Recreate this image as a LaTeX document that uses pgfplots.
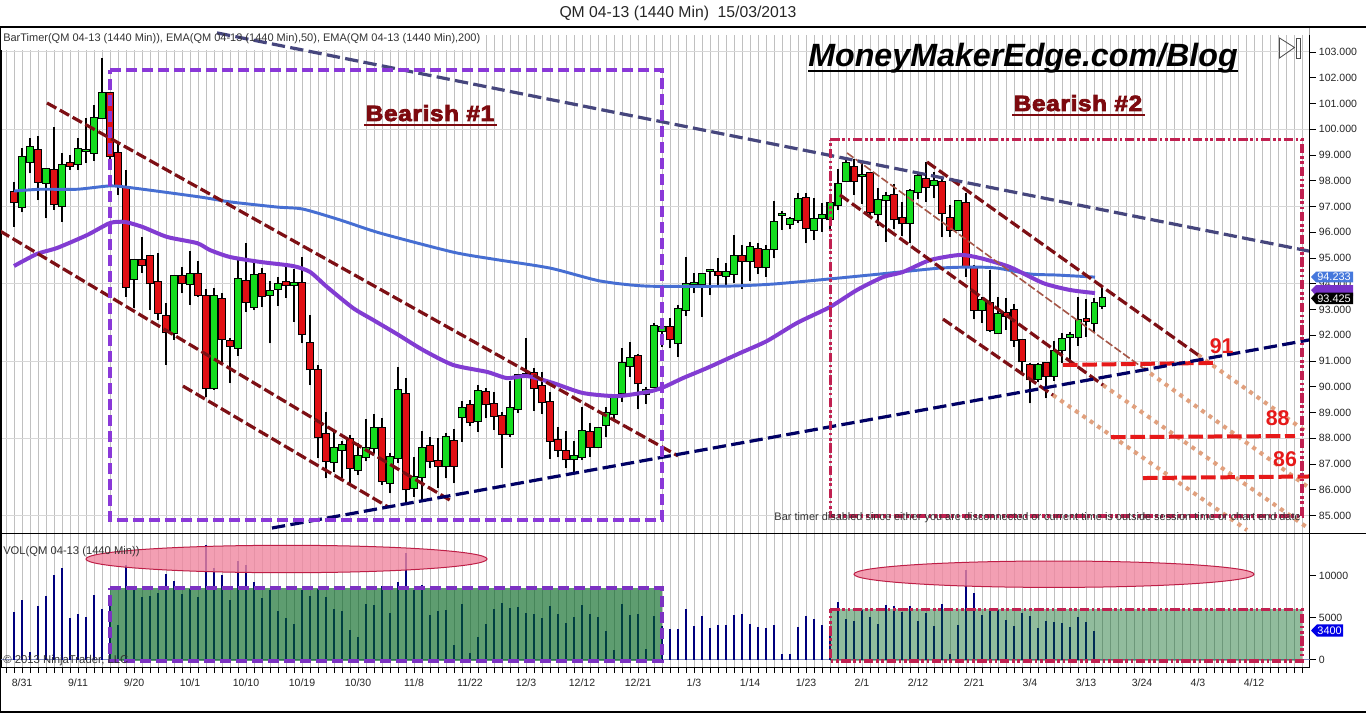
\documentclass[border=0pt]{standalone}
\usepackage{fontspec}
\setmainfont{Liberation Sans}
\newfontfamily\heavy[FakeBold=3.5,LetterSpace=3]{Liberation Sans Bold}
\usepackage{graphicx}
\usepackage{pgfplots}
\usepackage{pgfplotstable}
\pgfplotsset{compat=1.18}
\definecolor{cgreen}{RGB}{20,220,30}
\definecolor{cred}{RGB}{225,15,20}
\definecolor{emab}{RGB}{70,110,210}
\definecolor{emap}{RGB}{130,60,210}
\definecolor{slate}{RGB}{70,70,125}
\definecolor{navy2}{RGB}{0,0,100}
\definecolor{chan}{RGB}{125,15,20}
\definecolor{thinc}{RGB}{165,85,70}
\definecolor{tan2}{RGB}{225,160,125}
\definecolor{hred}{RGB}{230,25,25}
\definecolor{rpur}{RGB}{138,56,216}
\definecolor{rred}{RGB}{192,32,80}
\definecolor{volb}{RGB}{0,0,125}
\definecolor{rgreen}{RGB}{0,100,30}
\definecolor{gridc}{RGB}{192,192,192}
\definecolor{gridh}{RGB}{215,215,215}
\definecolor{zeroc}{RGB}{130,140,190}
\definecolor{elld}{RGB}{190,30,70}
\definecolor{ellf}{RGB}{240,135,160}
\definecolor{bear}{RGB}{125,10,15}
\definecolor{flagp}{RGB}{120,50,200}
\definecolor{flagb}{RGB}{70,120,220}
\definecolor{flagv}{RGB}{0,0,230}

% i high low top bot
\pgfplotstableread{
i high low top bot
0 99.26 96.77 98.91 96.99
1 99.65 98.29 99.32 98.72
3 98.48 96.54 98.44 97.93
5 99.09 96.41 98.60 97.03
7 99.67 98.42 99.22 98.64
8 100.42 98.68 99.19 99.17
9 100.94 98.77 100.42 99.09
10 102.75 100.55 101.39 100.42
14 94.92 93.05 94.91 94.17
19 94.30 91.82 94.29 92.08
21 95.29 93.18 94.37 93.98
24 93.84 89.88 93.53 89.94
27 94.92 91.20 94.17 91.52
29 94.86 92.98 94.35 93.11
31 94.12 91.69 93.71 93.55
32 94.28 93.14 93.98 93.79
34 94.56 92.53 94.02 93.94
39 88.33 86.71 87.61 87.07
40 87.91 86.45 87.73 87.54
42 87.81 86.58 87.30 86.76
43 88.75 87.11 87.61 87.26
44 88.95 87.42 88.39 87.61
46 87.42 85.87 87.26 86.25
47 90.78 87.03 89.87 87.22
49 87.26 85.74 86.51 86.06
50 88.30 85.54 87.61 86.49
53 88.20 86.45 88.04 86.91
55 89.46 87.87 89.17 88.82
57 90.07 88.26 89.83 88.66
61 90.24 88.07 89.17 88.16
62 90.50 89.00 90.46 89.13
69 87.91 86.71 87.30 87.19
70 89.23 87.16 88.27 87.26
72 88.45 87.61 88.39 87.65
73 89.23 88.04 88.97 88.51
74 89.55 88.71 89.55 88.93
75 91.52 89.42 90.91 89.75
76 91.75 90.40 91.11 90.80
78 90.01 89.33 89.89 89.72
79 92.49 90.01 92.35 90.01
80 92.66 91.56 92.31 92.18
82 93.18 91.17 93.01 91.69
83 95.05 92.75 94.00 92.97
84 94.43 93.63 94.02 93.99
85 94.41 92.72 94.39 94.00
86 94.52 93.56 94.52 94.50
88 94.79 93.95 94.44 94.29
89 95.89 94.02 95.07 94.37
91 95.64 94.12 95.42 94.87
93 95.51 94.28 95.30 94.64
94 97.23 94.99 96.39 95.34
95 96.84 96.09 96.71 96.69
96 96.58 96.11 96.50 96.33
97 97.51 96.37 97.28 96.46
99 97.32 95.70 96.50 96.08
100 97.12 96.02 96.66 96.54
101 97.38 96.09 97.15 96.50
102 98.44 96.86 97.89 97.05
103 98.87 97.96 98.68 97.98
105 98.74 97.10 98.21 98.19
107 97.71 96.24 97.24 96.70
108 97.58 95.64 97.40 97.24
111 97.67 95.57 97.59 96.35
112 98.35 97.28 98.17 97.55
114 98.35 97.32 97.98 97.82
117 97.25 96.06 97.20 96.08
120 93.50 92.47 93.36 93.00
122 93.50 92.05 92.81 92.08
127 90.91 90.20 90.84 90.29
129 91.79 90.24 91.38 90.43
130 92.10 90.91 91.84 91.42
131 92.14 90.91 92.00 91.92
132 93.50 91.60 92.61 91.92
134 93.44 92.08 93.24 92.47
135 93.82 93.01 93.44 93.13
}\upbars
\pgfplotstableread{
i high low top bot
-1 97.96 96.22 97.55 97.16
2 99.74 97.25 99.21 97.96
4 100.10 96.87 98.40 97.08
6 99.00 98.42 98.69 98.59
11 101.39 98.68 101.39 98.96
12 99.52 97.45 99.06 97.82
13 98.42 93.50 97.77 93.89
15 95.80 94.41 94.91 94.72
16 95.08 92.98 95.07 94.02
17 95.18 92.60 94.06 92.88
18 93.27 90.85 92.74 92.12
20 94.67 93.63 94.29 94.02
22 94.89 93.50 94.37 93.55
23 93.80 89.62 93.53 89.94
25 93.64 90.93 93.40 91.85
26 91.90 90.15 91.77 91.60
28 95.60 92.92 94.10 93.31
30 94.60 93.09 94.37 93.51
33 94.79 93.46 94.06 93.94
35 95.05 91.69 94.02 92.04
36 92.79 90.07 91.69 90.68
37 90.85 87.22 90.64 88.04
38 89.04 86.45 88.16 87.11
41 88.13 86.25 87.96 86.84
45 88.78 86.19 88.39 86.33
48 90.33 85.54 89.71 86.02
51 88.04 86.84 87.69 87.11
52 88.00 86.06 87.11 86.91
54 88.35 86.25 87.89 86.94
56 89.49 88.48 89.28 88.62
58 89.94 88.78 89.79 89.32
59 89.79 88.33 89.32 88.86
60 89.04 86.84 88.86 88.16
63 91.88 90.40 90.50 90.42
64 90.72 89.08 90.53 89.94
65 90.59 88.95 90.02 89.40
66 89.79 87.19 89.40 87.89
67 88.43 87.26 87.92 87.54
68 88.30 86.84 87.50 87.19
71 88.58 87.29 88.23 87.65
77 91.26 89.13 91.18 90.14
81 92.66 91.49 92.31 91.84
87 94.99 93.95 94.44 94.35
90 95.51 93.78 95.07 94.90
92 95.60 94.38 95.34 94.64
98 97.51 95.57 97.32 96.15
104 98.83 97.45 98.52 97.98
106 98.31 96.61 98.31 96.77
109 97.86 96.11 97.43 96.50
110 97.19 95.86 96.54 96.35
113 98.72 97.19 98.05 97.74
115 98.05 95.80 97.94 96.74
116 97.06 95.83 96.54 96.09
118 97.51 94.28 97.12 94.67
119 94.73 92.62 94.67 92.97
121 94.54 92.14 93.24 92.19
123 93.44 92.21 92.85 92.76
124 93.22 91.56 92.97 91.81
125 91.81 90.59 91.81 90.99
126 90.91 89.36 90.84 90.29
128 90.91 89.55 90.91 90.41
133 93.41 91.95 92.62 92.54
}\downbars
\pgfplotstableread{
i v
-1 5714
0 7100
1 913
2 6389
3 7579
4 10079
5 10912
6 4960
7 5436
8 5079
9 7698
10 6031
11 7000
12 4127
13 11270
14 8293
15 7460
16 7579
17 7936
18 10198
19 9365
20 7817
21 8412
22 7460
23 13650
24 10912
25 10079
26 7103
27 11745
28 11270
29 9245
30 7341
31 8293
32 5793
33 4960
34 4246
35 8293
36 7579
37 8412
38 7460
39 6031
40 5793
41 3531
42 2698
43 6627
44 6508
45 8769
46 5555
47 9245
48 12698
49 8293
50 8888
51 5317
52 5793
53 5912
54 1746
55 6627
56 794
57 2698
58 4246
59 6031
60 6746
61 6150
62 6270
63 5555
64 5436
65 4960
66 6389
67 5436
68 4365
69 5079
70 6508
71 5436
72 5079
73 3413
74 1151
75 6627
76 5317
77 5436
78 1270
79 5198
80 4000
81 3650
82 3650
83 6031
84 4008
85 5198
86 3770
87 4127
88 4127
89 5317
90 5436
91 4246
92 3889
93 3770
94 4127
95 675
96 675
97 3889
98 5198
99 4841
100 4127
101 3000
102 6865
103 4841
104 4603
105 5912
106 5079
107 4246
108 6508
109 6389
110 5674
111 6389
112 4603
113 5555
114 4008
115 6627
116 675
117 4127
118 10674
119 7936
120 5317
121 5912
122 5912
123 4722
124 4008
125 5555
126 5198
127 3770
128 4603
129 4484
130 4365
131 3889
132 5079
133 4484
134 3400
}\voltable

\newcommand{\wicks}[1]{\addplot[draw=none,mark=none,forget plot,error bars/.cd,y dir=plus,y explicit,error mark=none,error bar style={line width=0.8pt,draw=black,line cap=butt}] table[x=i,y=low,y error plus expr=\thisrow{high}-\thisrow{low}] {#1};}
\newcommand{\bodyb}[1]{\addplot[draw=none,mark=none,forget plot,error bars/.cd,y dir=plus,y explicit,error mark=none,error bar style={line width=5.25pt,draw=black,line cap=butt}] table[x=i,y expr=\thisrow{bot}-0.04,y error plus expr=\thisrow{top}-\thisrow{bot}+0.08] {#1};}
\newcommand{\bodyc}[2]{\addplot[draw=none,mark=none,forget plot,error bars/.cd,y dir=plus,y explicit,error mark=none,error bar style={line width=3.75pt,draw=#2,line cap=butt}] table[x=i,y=bot,y error plus expr=\thisrow{top}-\thisrow{bot}] {#1};}

\begin{document}
\begin{tikzpicture}
\useasboundingbox (0,0) rectangle (1024.5pt,-534.75pt);
\fill[white] (0,0) rectangle (1024.5pt,-534.75pt);
\begin{axis}[
  at={(0.75pt,-20.25pt)},anchor=north west,
  scale only axis,width=981.375pt,height=380.025pt,
  xmin=-2.625,xmax=160.94,ymin=84.299,ymax=103.969,
  scaled ticks=false,
  xtick={-2,-1,...,160},xticklabels={},
  x tick style={draw=none},
  xmajorgrids=true,x grid style={gridc,line width=0.7pt},
  ytick={85,86,...,103},
  minor ytick={85,88,...,103},
  yminorgrids=true,minor y grid style={gridh,line width=0.75pt},
  minor tick length=0pt,
  ytick pos=right,yticklabel pos=right,
  tick align=outside,major tick length=4.5pt,
  y tick style={black,line width=0.6pt},
  axis line style={black,line width=0.75pt},
  /pgf/number format/fixed,/pgf/number format/fixed zerofill,/pgf/number format/precision=3,/pgf/number format/assume math mode=true,/pgf/number format/1000 sep={},
  ticklabel style={font=\fontsize{7.9}{9}\selectfont,text=black!85},
  y tick label style={xshift=-1pt},
]
% white band behind the indicator caption
\addplot[fill=white,draw=none,forget plot] coordinates {(-2.625,103.969)(160.94,103.969)(160.94,103.66)(57.5,103.66)(57.5,103.08)(-2.625,103.08)} --cycle;
\wicks{\upbars}\wicks{\downbars}
\bodyb{\upbars}\bodyb{\downbars}
\bodyc{\upbars}{cgreen}\bodyc{\downbars}{cred}
% EMA 200
\addplot[emab,line width=2.2pt,line join=round,smooth,tension=0.4,forget plot] coordinates {(-1,97.60)(2.25,97.67)(6.875,97.67)(11,97.80)(13.875,97.72)(22.25,97.37)(26,97.18)(31.875,96.98)(35.125,96.90)(39.75,96.48)(44.75,95.97)(53.875,95.23)(58.875,94.96)(66,94.61)(72.25,94.11)(78.125,93.91)(88.125,93.91)(93.875,93.99)(101,94.19)(107.25,94.38)(114.75,94.61)(118.875,94.65)(121.875,94.61)(126,94.38)(129.375,94.34)(134.125,94.26)};
% EMA 50
\addplot[emap,line width=3pt,line join=round,smooth,tension=0.4,forget plot] coordinates {(-1,94.69)(1.875,95.16)(4.375,95.39)(8.125,95.89)(11,96.36)(12.875,96.40)(15.125,96.20)(18.125,95.82)(21.875,95.58)(23.5,95.31)(26,95.04)(29.75,94.85)(33.875,94.69)(36,94.46)(38.125,93.88)(41.375,93.06)(43.875,92.60)(46.875,92.05)(50.125,91.43)(53.875,90.85)(58.125,90.58)(60.625,90.34)(63.125,90.42)(66.375,90.15)(70.125,89.76)(74.375,89.64)(78.125,89.80)(80,89.96)(82.625,90.34)(85.625,90.73)(89.75,91.31)(93.125,91.78)(96.875,92.48)(101,93.10)(104.375,93.76)(107.625,94.26)(110.125,94.46)(113.5,94.92)(117.25,95.12)(119.75,95.00)(123.5,94.65)(127.625,94.03)(131,93.76)(134.125,93.64)};
% dotted projections
\addplot[tan2,line width=3pt,dash pattern=on 3pt off 3.75pt,forget plot] coordinates {(147,91.24)(160.75,88.21)};
\addplot[tan2,line width=3pt,dash pattern=on 3pt off 3.75pt,forget plot] coordinates {(140.125,90.73)(160.75,86.11)};
\addplot[tan2,line width=3pt,dash pattern=on 3pt off 3.75pt,forget plot] coordinates {(135.125,90.07)(160.75,84.52)};
\addplot[tan2,line width=3pt,dash pattern=on 3pt off 3.75pt,forget plot] coordinates {(128.875,89.68)(153.125,84.44)};
% trend lines
\addplot[chan,line width=2.4pt,dash pattern=on 8pt off 3pt,forget plot] coordinates {(3.125,101.02)(82,87.32)};
\addplot[chan,line width=2.4pt,dash pattern=on 8pt off 3pt,forget plot] coordinates {(-2.75,96.05)(53.875,85.53)};
\addplot[chan,line width=2.4pt,dash pattern=on 8pt off 3pt,forget plot] coordinates {(20.125,90.03)(45.75,85.34)};
\addplot[chan,line width=2.4pt,dash pattern=on 8pt off 3pt,forget plot] coordinates {(113.125,98.73)(147,91.24)};
\addplot[chan,line width=2.4pt,dash pattern=on 8pt off 3pt,forget plot] coordinates {(102.25,97.45)(135.125,90.07)};
\addplot[chan,line width=2.4pt,dash pattern=on 8pt off 3pt,forget plot] coordinates {(115.125,92.63)(128.875,89.68)};
\addplot[thinc,line width=1.2pt,dash pattern=on 6pt off 2pt,forget plot] coordinates {(103.125,99.08)(140.125,90.73)};
% horizontal targets
\addplot[hred,line width=3pt,dash pattern=on 11pt off 3.5pt,forget plot] coordinates {(130.125,90.85)(149.125,90.93)};
\addplot[hred,line width=3pt,dash pattern=on 11pt off 3.5pt,forget plot] coordinates {(136.125,88.05)(159.125,88.09)};
\addplot[hred,line width=3pt,dash pattern=on 11pt off 3.5pt,forget plot] coordinates {(140.125,86.46)(160.875,86.52)};
\addplot[slate,line width=2.4pt,dash pattern=on 10pt off 4pt,forget plot] coordinates {(24.375,103.74)(160.875,95.27)};
\addplot[navy2,line width=2.4pt,dash pattern=on 10pt off 4pt,forget plot] coordinates {(31.25,84.52)(160.875,91.82)};
% boxes
\addplot[rpur,line width=3pt,dash pattern=on 8pt off 4pt,forget plot] coordinates {(11,102.30)(80,102.30)(80,84.83)(11,84.83)(11,102.30)};
\addplot[rred,line width=2.4pt,dash pattern=on 7pt off 2pt on 2pt off 2pt on 2pt off 2pt,forget plot] coordinates {(101.06,99.60)(160,99.60)(160,84.99)(101.06,84.99)(101.06,99.60)};
\end{axis}

\begin{axis}[
  at={(0.75pt,-400.275pt)},anchor=north west,
  scale only axis,width=981.375pt,height=99.975pt,
  xmin=-2.625,xmax=160.94,ymin=-869,ymax=15000,
  scaled ticks=false,
  xtick={0,7,...,154},
  xticklabels={8/31,9/11,9/20,10/1,10/10,10/19,10/30,11/8,11/22,12/3,12/12,12/21,1/3,1/14,1/23,2/1,2/12,2/21,3/4,3/13,3/24,4/3,4/12},
  minor xtick={-2,-1,...,160},
  xmajorgrids=true,xminorgrids=true,
  x grid style={gridc,line width=0.7pt},minor x grid style={gridc,line width=0.7pt},
  ytick={0,5000,10000},
  ytick pos=right,yticklabel pos=right,xtick pos=bottom,
  tick align=outside,major tick length=4.5pt,minor tick length=4.5pt,
  tick style={black,line width=0.6pt},
  minor tick style={black,line width=0.6pt},
  axis line style={black,line width=0.75pt},
  /pgf/number format/fixed,/pgf/number format/assume math mode=true,/pgf/number format/1000 sep={},
  xticklabel style={yshift=-0.5pt},
  ticklabel style={font=\fontsize{7.9}{9}\selectfont,text=black!85},
  y tick label style={xshift=-1pt},
]
\addplot[zeroc,line width=0.75pt,forget plot] coordinates {(-2.625,0)(160.94,0)};
\addplot[ycomb,no markers,volb,line width=1.5pt,forget plot] table[x=i,y=v] {\voltable};
\addplot[fill=rgreen,fill opacity=0.63,draw=none,forget plot] coordinates {(11,8536)(80,8536)(80,-155)(11,-155)} --cycle;
\addplot[fill=rgreen,fill opacity=0.43,draw=none,forget plot] coordinates {(101.06,6000)(160,6000)(160,-155)(101.06,-155)} --cycle;
\addplot[rpur!90!black,line width=3pt,dash pattern=on 8pt off 4pt,forget plot] coordinates {(11,8536)(80,8536)(80,-155)(11,-155)(11,8536)};
\addplot[rred,line width=2.4pt,dash pattern=on 7pt off 2pt on 2pt off 2pt on 2pt off 2pt,forget plot] coordinates {(101.06,6000)(160,6000)(160,-155)(101.06,-155)(101.06,6000)};
\end{axis}

\begin{scope}[x=0.75pt,y=-0.75pt]
% outer frame
\draw[black,line width=0.9pt] (0.5,713) -- (0.5,27) -- (1366,27);
\draw[black,line width=0.9pt] (0,533.7) -- (1366,533.7);
\draw[black,line width=0.9pt] (0,712) -- (1366,712);
% ellipses
\draw[draw=elld,fill=ellf,fill opacity=0.8,line width=0.75pt] (286.5,559) ellipse [x radius=200.5,y radius=13.7];
\draw[draw=elld,fill=ellf,fill opacity=0.8,line width=0.75pt] (1054,574.2) ellipse [x radius=200,y radius=13.2];
% captions
\node[anchor=base,font=\fontsize{11.8}{13}\selectfont,text=black!85] at (678,18) {QM 04-13 (1440 Min)\ \ 15/03/2013};
\node[anchor=west,inner sep=0,font=\fontsize{8.25}{9}\selectfont,text=black!80] at (3,39) {BarTimer(QM 04-13 (1440 Min)), EMA(QM 04-13 (1440 Min),50), EMA(QM 04-13 (1440 Min),200)};
\node[anchor=west,inner sep=0,font=\fontsize{8.4}{9}\selectfont,text=black!80] at (3,551.5) {VOL(QM 04-13 (1440 Min))};
\node[anchor=west,inner sep=0,font=\fontsize{8.5}{9}\selectfont,text=black!80] at (3,661) {© 2013 NinjaTrader, LLC};
\node[anchor=east,inner sep=0,font=\fontsize{8.2}{9}\selectfont,text=black!80] at (1301,518) {Bar timer disabled since either you are disconnected or current time is outside session time or chart end date};
% headlines
\node[anchor=base west,inner sep=0,font=\fontsize{24.15}{28}\selectfont\bfseries\itshape] at (808,67) {MoneyMakerEdge.com/Blog};
\draw[black,line width=1.6pt] (808,71) -- (1238,71);
\node[anchor=base,inner sep=0,text=bear,font=\fontsize{16.5}{18}\selectfont\heavy] at (430,121) {\scalebox{1.1}[1]{Bearish \#1}};
\draw[bear,line width=0.9pt] (364,125) -- (497,125);
\node[anchor=base,inner sep=0,text=bear,font=\fontsize{16.5}{18}\selectfont\heavy] at (1078,111) {\scalebox{1.1}[1]{Bearish \#2}};
\draw[bear,line width=0.9pt] (1012,115) -- (1145,115);
% target numbers
\node[text=hred,font=\fontsize{16}{18}\selectfont\bfseries] at (1221.7,346) {91};
\node[text=hred,font=\fontsize{16}{18}\selectfont\bfseries] at (1277.7,418.5) {88};
\node[text=hred,font=\fontsize{16}{18}\selectfont\bfseries] at (1285,459) {86};
% end-of-bar icon
\draw[black!70,line width=0.6pt] (1279.5,38) -- (1294.5,47.5) -- (1279.5,58) -- cycle;
\draw[black!70,line width=0.6pt] (1296.5,38) rectangle (1300,58);
% price flags
\fill[flagp] (1311,290) -- (1316,285) -- (1353,285) -- (1353,296) -- (1316,296) -- cycle;
\fill[flagb] (1311,277) -- (1316,271.7) -- (1353,271.7) -- (1353,282.3) -- (1316,282.3) -- cycle;
\node[text=white,font=\fontsize{8.2}{9}\selectfont,anchor=east,inner sep=0] at (1351,277.2) {94.233};
\fill[black] (1311,298.3) -- (1316,292.7) -- (1353,292.7) -- (1353,304) -- (1316,304) -- cycle;
\node[text=white,font=\fontsize{8.2}{9}\selectfont,anchor=east,inner sep=0] at (1351,298.5) {93.425};
\fill[flagv] (1311,630.5) -- (1317,624.3) -- (1343,624.3) -- (1343,636.7) -- (1317,636.7) -- cycle;
\node[text=white,font=\fontsize{8.2}{9}\selectfont,anchor=east,inner sep=0] at (1342,630.7) {3400};
\end{scope}
\end{tikzpicture}
\end{document}
